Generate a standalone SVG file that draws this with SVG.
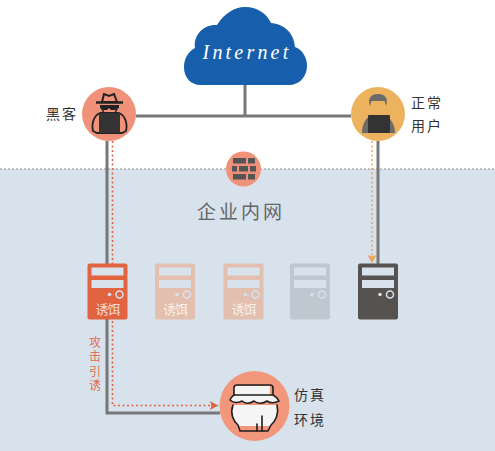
<svg xmlns="http://www.w3.org/2000/svg" width="495" height="451" viewBox="0 0 495 451">
<style>
.cjk{font-family:"Noto Sans CJK SC","Noto Sans",sans-serif}
.dark{fill:#333;font-size:14px;letter-spacing:2px}
.bait{fill:#fff;fill-opacity:.8;font-size:13px;letter-spacing:-1px;text-anchor:middle}
.slot{fill:#d7e2ec}
.solid{fill:none;stroke:#777;stroke-width:3}
.ring{fill:none;stroke:#d7e2ec;stroke-width:1.5}
.dot{fill:#d7e2ec}
.ink{fill:none;stroke:#1f1f1f;stroke-width:1.6;stroke-linejoin:round;stroke-linecap:round}
</style>
<defs>
<marker id="aRed" markerWidth="9" markerHeight="10" refX="8" refY="4.500" orient="auto" markerUnits="userSpaceOnUse"><path d="M0 0L8 4.500L0 9L1.500 4.500Z" fill="#e2633f"/></marker>
<marker id="aOr" markerWidth="9" markerHeight="10" refX="8" refY="4.500" orient="auto" markerUnits="userSpaceOnUse"><path d="M0 0L8 4.500L0 9L1.500 4.500Z" fill="#eda55a"/></marker>
<g id="srv">
<rect x="0" y="0" width="40" height="56" rx="2"/>
<rect class="slot" x="4" y="4" width="32" height="8"/>
<rect class="slot" x="4" y="16.500" width="32" height="8"/>
<circle class="dot" cx="22" cy="31" r="1.800"/>
<circle class="ring" cx="32" cy="31" r="3.500"/>
</g>
</defs>
<rect id="bg" x="0" y="169" width="495" height="282" fill="#d7e2ec"/>
<path id="boundary" d="M0 169H495" stroke="#8c8c8c" stroke-width="1" stroke-dasharray="2 2" fill="none"/>
<g id="connectors">
<path class="solid" d="M245 85V116M136 116H351"/>
<path class="solid" d="M107 141V413H220"/>
<path class="solid" d="M378 141V264"/>
<path d="M112.500 141V405.500H218" fill="none" stroke="#e2633f" stroke-width="1.600" stroke-dasharray="2 2.500" marker-end="url(#aRed)"/>
<path d="M372 141V263" fill="none" stroke="#eda55a" stroke-width="1.500" stroke-dasharray="2 2.500" marker-end="url(#aOr)"/>
</g>
<g id="internet">
<path d="M201 85C190 85 184 77 184 67C184 58 189 51 195 48C193 35 204 24 217 25C224 14 234 7 245 7C258 7 267 14 271 23C283 24 294 32 295 47C303 50 307 58 307 66C307 77 299 85 289 85Z" fill="#175fad"/>
<text x="247" y="59" text-anchor="middle" font-family="'Liberation Serif',serif" font-style="italic" font-size="20" letter-spacing="3.200" fill="#fff">Internet</text>
</g>
<g id="hacker">
<circle cx="109" cy="114" r="27" fill="#f0917a"/>
<path d="M102 102L104 94L109 96L114 94L117 102Z" fill="#f0917a" stroke="#222" stroke-width="2"/>
<path d="M96 102.500H123" stroke="#222" stroke-width="2.500"/>
<path d="M100 105H119V108L115 110H111L109 108L107 110H103L100 108Z" fill="#222"/>
<path d="M102 109L104 113H115L117 109" fill="none" stroke="#222" stroke-width="1.500"/>
<path d="M93 131C91 122 95 115 100 113H119C124 115 128 122 126 131L122 133H97Z" fill="#f0917a" stroke="#222" stroke-width="1.800"/>
<rect x="99" y="113" width="21" height="20" rx="1" fill="#333"/>
<text class="cjk dark" x="46" y="119">黑客</text>
</g>
<g id="user">
<circle cx="378" cy="114" r="27" fill="#ecb25e"/>
<path d="M362 133C362 124 366 117 372 115H384C390 117 395 124 395 133Z" fill="#6b6b6b"/>
<path d="M371 103C371 96 385 96 385 103C385 110 382 114 378 114C374 114 371 110 371 103Z" fill="#ecb25e"/>
<path d="M370 106C367 97 372 94 378 94C384 94 389 97 386 106L384.500 101C381 101 375 101 371.500 101Z" fill="#6b6b6b"/>
<rect x="368" y="115" width="22" height="18" rx="1" fill="#333"/>
<text class="cjk dark" x="411" y="108">正常</text>
<text class="cjk dark" x="411" y="131">用户</text>
</g>
<g id="firewall">
<circle cx="243.500" cy="169" r="17.500" fill="#f0917a"/>
<g fill="#555">
<rect x="233" y="158" width="13" height="5.500"/><rect x="248" y="158" width="7" height="5.500"/>
<rect x="232" y="166" width="5" height="5.500"/><rect x="239" y="166" width="9" height="5.500"/><rect x="250" y="166" width="6" height="5.500"/>
<rect x="233" y="174" width="13" height="5.500"/><rect x="248" y="174" width="7" height="5.500"/>
</g>
</g>
<g id="intranet"><text class="cjk" x="197" y="219" font-size="19" letter-spacing="3" fill="#666">企业内网</text></g>
<g id="server1"><use href="#srv" x="87.500" y="263.500" fill="#e2633f"/><text class="cjk bait" x="107.500" y="314">诱饵</text></g>
<g id="server2"><use href="#srv" x="155" y="263.500" fill="#e2bfae"/><text class="cjk bait" x="175" y="314">诱饵</text></g>
<g id="server3"><use href="#srv" x="223.500" y="263.500" fill="#e2bfae"/><text class="cjk bait" x="243.500" y="314">诱饵</text></g>
<g id="server4"><use href="#srv" x="290" y="263.500" fill="#bfc8d0"/></g>
<g id="server5"><use href="#srv" x="358" y="263.500" fill="#565250"/></g>
<g id="lure"><text class="cjk" x="95" y="336" font-size="12" letter-spacing="2.500" fill="#e2704f" style="writing-mode:vertical-rl">攻击引诱</text></g>
<g id="sandbox">
<circle cx="254.500" cy="406" r="35" fill="#f2977b"/>
<path d="M233 405C230 413 233 421 238 425L240 431H268L271 425C276 421 279 413 277 405Z" fill="#f5f5f5"/>
<path d="M239 426H270L268 431H240Z" fill="#f2977b"/>
<path class="ink" d="M233 405C230 413 233 421 238 425L240 431H268L271 425C276 421 279 413 277 405"/>
<path d="M234 386H270V395H234Z" fill="#f5f5f5"/>
<path class="ink" d="M234 396V388Q234 385 237 385H270Q273 385 273 388V396"/>
<path d="M230 400C232 396 234 395 235 395H273C275 396 278 399 279 401C275 403 270 403 267 401C263 404 257 404 254 401C250 404 245 404 242 401C238 403 233 403 230 400Z" fill="#f5f5f5" stroke="#1f1f1f" stroke-width="1.600" stroke-linejoin="round"/>
<path class="ink" d="M257 431V424M262 431V416"/>
<text class="cjk dark" x="294" y="400">仿真</text>
<text class="cjk dark" x="294" y="425">环境</text>
</g>
</svg>
